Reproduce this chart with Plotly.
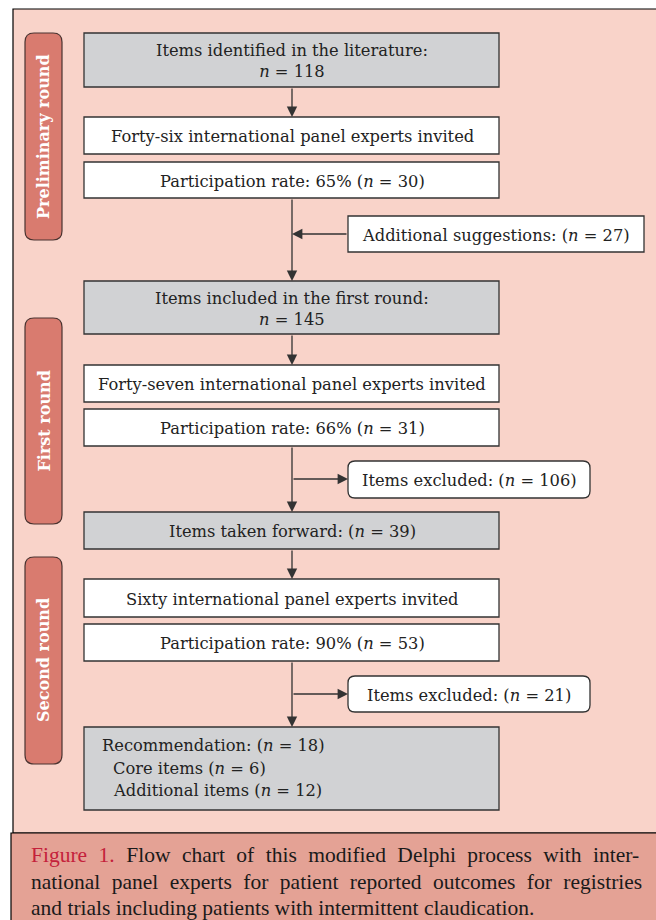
import plotly.graph_objects as go

W, H = 656, 920

# ---------------- content ----------------
main_texts = [
    "Items identified in the literature:<br><i>n</i> = 118",
    "Forty-six international panel experts invited",
    "Participation rate: 65% (<i>n</i> = 30)",
    "Items included in the first round:<br><i>n</i> = 145",
    "Forty-seven international panel experts invited",
    "Participation rate: 66% (<i>n</i> = 31)",
    "Items taken forward: (<i>n</i> = 39)",
    "Sixty international panel experts invited",
    "Participation rate: 90% (<i>n</i> = 53)",
    "",
]
main_kind = ["gray", "white", "white", "gray", "white", "white", "gray", "white", "white", "gray"]
recommendation_lines = [
    "Recommendation: (<i>n</i> = 18)",
    "Core items (<i>n</i> = 6)",
    "Additional items (<i>n</i> = 12)",
]
side_texts = [
    "Additional suggestions: (<i>n</i> = 27)",
    "Items excluded: (<i>n</i> = 106)",
    "Items excluded: (<i>n</i> = 21)",
]
round_labels = ["Preliminary round", "First round", "Second round"]
caption_words = [
    ["<span style='color:#c4213b'>Figure", "1.</span>", "Flow", "chart", "of", "this",
     "modified", "Delphi", "process", "with", "inter-"],
    ["national", "panel", "experts", "for", "patient", "reported", "outcomes", "for", "registries"],
    ["and", "trials", "including", "patients", "with", "intermittent", "claudication."],
]
caption_justify = [True, True, False]

# ---------------- layout geometry ----------------
main_x = (84, 499)
main_y = [(33, 87), (117, 154), (162, 198), (281, 334), (365, 402),
          (409, 446), (512, 549), (579, 617), (624, 661), (727, 810)]
# pairs of main boxes joined by a vertical arrow
links = [(0, 1), (2, 3), (3, 4), (5, 6), (6, 7), (8, 9)]
rec_pos = [(100, 745), (111, 768), (111, 790)]
side_box = [(348, 644, 216, 252, 0), (348, 590, 461, 498, 7), (348, 590, 676, 712, 7)]
side_arrow_y = [234, 479, 694]
side_arrow_dir = ["in", "out", "out"]
pill_x = (25, 62)
pill_y = [(33, 240), (318, 524), (557, 764)]
cx = 292

PINK = "#f9d3c9"
PILL = "#d97b6f"
GRAY = "#d1d2d4"
LINE = "#333333"
CAPBG = "#e4a295"
FONT = "DejaVu Serif"
CAPFONT = "Liberation Serif"
FS = 16.3

fig = go.Figure()
fig.update_layout(
    width=W, height=H, margin=dict(l=0, r=0, t=0, b=0),
    paper_bgcolor="white", plot_bgcolor="white", showlegend=False,
    xaxis=dict(range=[0, W], visible=False, fixedrange=True),
    yaxis=dict(range=[H, 0], visible=False, fixedrange=True),
)


def rrect(x0, y0, x1, y1, r):
    return (f"M{x0+r},{y0} L{x1-r},{y0} Q{x1},{y0} {x1},{y0+r} L{x1},{y1-r} "
            f"Q{x1},{y1} {x1-r},{y1} L{x0+r},{y1} Q{x0},{y1} {x0},{y1-r} "
            f"L{x0},{y0+r} Q{x0},{y0} {x0+r},{y0} Z")


shapes = []
annotations = []

# outer frame
shapes.append(dict(type="rect", x0=13, y0=9, x1=W + 5, y1=833,
                   fillcolor=PINK, line=dict(color="black", width=1.2), layer="below"))
# caption band
shapes.append(dict(type="rect", x0=11, y0=833, x1=W + 5, y1=H + 5,
                   fillcolor=CAPBG, line=dict(color="black", width=1.2), layer="below"))

# round pills
for (y0, y1), lab in zip(pill_y, round_labels):
    shapes.append(dict(type="path", path=rrect(pill_x[0], y0, pill_x[1], y1, 9),
                       fillcolor=PILL, line=dict(color="#4a3330", width=1.2)))
    annotations.append(dict(x=(pill_x[0] + pill_x[1]) / 2, y=(y0 + y1) / 2, text=f"<b>{lab}</b>",
                            textangle=-90, showarrow=False,
                            font=dict(family=FONT, size=16, color="white"),
                            xanchor="center", yanchor="middle"))

# main boxes
for (y0, y1), kind, txt in zip(main_y, main_kind, main_texts):
    shapes.append(dict(type="rect", x0=main_x[0], y0=y0, x1=main_x[1], y1=y1,
                       fillcolor=GRAY if kind == "gray" else "white",
                       line=dict(color=LINE, width=1.3)))
    if txt:
        annotations.append(dict(x=cx, y=(y0 + y1) / 2 + 1, text=txt, showarrow=False,
                                font=dict(family=FONT, size=FS, color="#222"),
                                xanchor="center", yanchor="middle"))
for (x, y), txt in zip(rec_pos, recommendation_lines):
    annotations.append(dict(x=x, y=y, text=txt, showarrow=False,
                            font=dict(family=FONT, size=FS, color="#222"),
                            xanchor="left", yanchor="middle"))

# side boxes
for (x0, x1, y0, y1, r), txt in zip(side_box, side_texts):
    if r:
        shapes.append(dict(type="path", path=rrect(x0, y0, x1, y1, r),
                           fillcolor="white", line=dict(color=LINE, width=1.3)))
    else:
        shapes.append(dict(type="rect", x0=x0, y0=y0, x1=x1, y1=y1,
                           fillcolor="white", line=dict(color=LINE, width=1.3)))
    annotations.append(dict(x=(x0 + x1) / 2, y=(y0 + y1) / 2 + 1, text=txt, showarrow=False,
                            font=dict(family=FONT, size=FS, color="#222"),
                            xanchor="center", yanchor="middle"))


def arrow(xh, yh, xt, yt):
    annotations.append(dict(x=xh, y=yh, ax=xt, ay=yt, xref="x", yref="y",
                            axref="x", ayref="y", showarrow=True, text="",
                            arrowhead=2, arrowsize=1.6, arrowwidth=1.3,
                            arrowcolor=LINE, standoff=0, startstandoff=0))


# vertical connectors
for a, b in links:
    arrow(cx, main_y[b][0], cx, main_y[a][1])

# horizontal connectors
for (x0, x1, y0, y1, r), ya, d in zip(side_box, side_arrow_y, side_arrow_dir):
    if d == "in":
        arrow(cx, ya, x0, ya)
    else:
        arrow(x0, ya, cx, ya)

# caption (justified lines get slightly wider word gaps)
for i, (words, just) in enumerate(zip(caption_words, caption_justify)):
    gap = " \u2009\u200a" if just else " "
    line = gap.join(words)
    annotations.append(dict(x=29, y=855 + i * 26.5, text=line, showarrow=False,
                            font=dict(family=CAPFONT, size=21.5, color="#1a1a1a"),
                            xanchor="left", yanchor="middle"))

fig.update_layout(shapes=shapes, annotations=annotations)
fig.write_html("out.html", config={"displayModeBar": False},
               post_script="document.body.style.margin='0';")
